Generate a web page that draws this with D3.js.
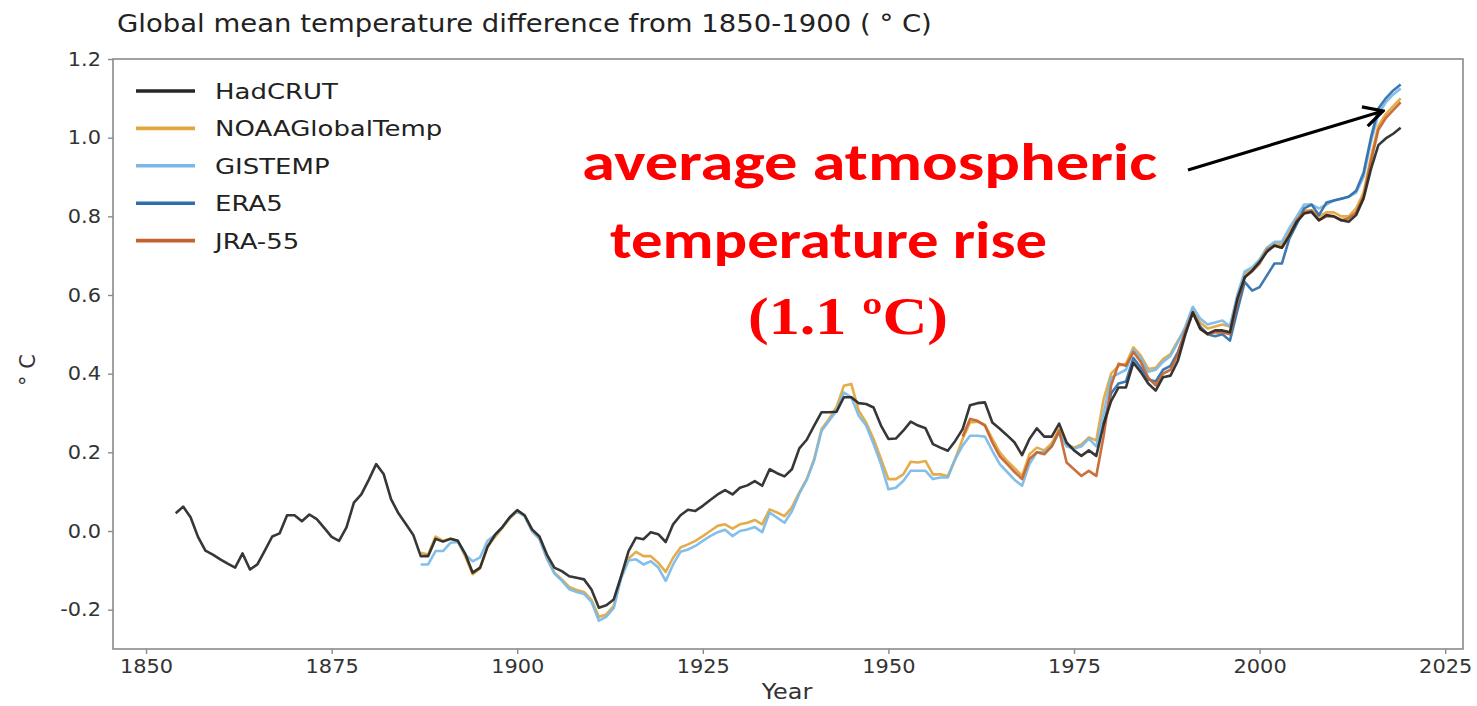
<!DOCTYPE html>
<html>
<head>
<meta charset="utf-8">
<script src="https://cdn.jsdelivr.net/npm/d3@7"></script>
<style>
  body { margin: 0; background: #fff; }
  svg { display: block; }
</style>
</head>
<body>
<svg id="chart" width="1477" height="706"></svg>
<script>
// ---- data (annual values, deg C relative to 1850-1900) ----
const hadcrutStart = 1854
const hadcrut = [
  0.045, 0.062, 0.035, -0.015, -0.05, -0.06, -0.072, -0.083, -0.093, -0.057,
  -0.098, -0.085, -0.05, -0.014, -0.006, 0.04, 0.04, 0.025, 0.042, 0.03,
  0.008, -0.015, -0.025, 0.009, 0.072, 0.093, 0.13, 0.17, 0.145, 0.081,
  0.045, 0.018, -0.01, -0.064, -0.064, -0.02, -0.027, -0.02, -0.025, -0.058,
  -0.106, -0.093, -0.04, -0.01, 0.01, 0.035, 0.053, 0.04, 0.004, -0.014,
  -0.06, -0.093, -0.102, -0.115, -0.119, -0.123, -0.149, -0.195, -0.189, -0.174,
  -0.115, -0.051, -0.017, -0.021, -0.003, -0.008, -0.028, 0.017, 0.04, 0.054,
  0.051, 0.064, 0.079, 0.093, 0.104, 0.093, 0.11, 0.116, 0.127, 0.115,
  0.157, 0.147, 0.139, 0.157, 0.21, 0.232, 0.268, 0.302, 0.302, 0.303,
  0.34, 0.34, 0.325, 0.323, 0.314, 0.268, 0.234, 0.235, 0.255, 0.278,
  0.268, 0.261, 0.221, 0.212, 0.204, 0.229, 0.259, 0.32, 0.325, 0.327,
  0.276, 0.26, 0.243, 0.225, 0.193, 0.234, 0.261, 0.24, 0.24, 0.273,
  0.225, 0.205, 0.191, 0.205, 0.191, 0.272, 0.33, 0.365, 0.365, 0.428,
  0.404, 0.375, 0.357, 0.391, 0.395, 0.433, 0.5, 0.556, 0.514, 0.501,
  0.51, 0.51, 0.505, 0.59, 0.645, 0.662, 0.684, 0.71, 0.726, 0.72,
  0.751, 0.786, 0.807, 0.811, 0.79, 0.803, 0.8, 0.79, 0.786, 0.803,
  0.845, 0.92, 0.981, 0.998, 1.01, 1.025
]

const noaaStart = 1887
const noaa = [
  -0.055, -0.06, -0.014, -0.025, -0.02, -0.025, -0.065, -0.11, -0.095, -0.04,
  -0.015, 0.008, 0.032, 0.05, 0.038, 0.0, -0.02, -0.07, -0.106, -0.123,
  -0.142, -0.15, -0.155, -0.175, -0.218, -0.212, -0.19, -0.115, -0.07, -0.053,
  -0.064, -0.064, -0.081, -0.104, -0.068, -0.042, -0.034, -0.025, -0.013, 0.0,
  0.013, 0.017, 0.006, 0.017, 0.021, 0.028, 0.017, 0.055, 0.047, 0.038,
  0.06, 0.098, 0.132, 0.183, 0.259, 0.285, 0.315, 0.369, 0.374, 0.306,
  0.276, 0.234, 0.183, 0.132, 0.132, 0.144, 0.176, 0.174, 0.178, 0.144,
  0.144, 0.14, 0.183, 0.234, 0.276, 0.278, 0.27, 0.234, 0.2, 0.178,
  0.16, 0.14, 0.195, 0.212, 0.205, 0.223, 0.259, 0.221, 0.212, 0.22,
  0.238, 0.23, 0.336, 0.4, 0.42, 0.425, 0.467, 0.446, 0.412, 0.415,
  0.437, 0.45, 0.484, 0.514, 0.565, 0.53, 0.515, 0.52, 0.525, 0.52,
  0.595, 0.655, 0.665, 0.69, 0.72, 0.73, 0.728, 0.76, 0.795, 0.815,
  0.815, 0.8, 0.81, 0.81, 0.8, 0.8, 0.82, 0.86, 0.95, 1.03,
  1.06, 1.08, 1.1
]

const gistempStart = 1887
const gistemp = [
  -0.085, -0.085, -0.051, -0.051, -0.03, -0.028, -0.06, -0.077, -0.067, -0.025,
  -0.01, 0.01, 0.035, 0.05, 0.038, 0.0, -0.02, -0.07, -0.108, -0.126,
  -0.148, -0.155, -0.16, -0.18, -0.228, -0.218, -0.196, -0.12, -0.075, -0.072,
  -0.085, -0.077, -0.093, -0.127, -0.085, -0.053, -0.047, -0.038, -0.025, -0.013,
  -0.003, 0.003, -0.013, 0.0, 0.004, 0.01, -0.003, 0.047, 0.034, 0.021,
  0.05, 0.095, 0.13, 0.18, 0.255, 0.28, 0.305, 0.352, 0.34, 0.293,
  0.268, 0.221, 0.17, 0.106, 0.11, 0.127, 0.153, 0.153, 0.153, 0.132,
  0.136, 0.136, 0.183, 0.217, 0.242, 0.242, 0.24, 0.204, 0.17, 0.15,
  0.13, 0.115, 0.17, 0.2, 0.2, 0.215, 0.25, 0.215, 0.21, 0.215,
  0.235, 0.215, 0.3, 0.39, 0.4, 0.41, 0.46, 0.44, 0.405, 0.41,
  0.43, 0.445, 0.48, 0.52, 0.57, 0.54, 0.525, 0.53, 0.535, 0.52,
  0.6, 0.66, 0.67, 0.69, 0.72, 0.735, 0.735, 0.77, 0.8, 0.83,
  0.83, 0.82, 0.83, 0.84, 0.845, 0.85, 0.86, 0.9, 0.99, 1.06,
  1.09, 1.11, 1.125
]

const era5Start = 1979
const era5 = [
  0.27, 0.35, 0.375, 0.38, 0.44, 0.415, 0.385, 0.38, 0.41, 0.42,
  0.455, 0.505, 0.555, 0.52, 0.5, 0.495, 0.5, 0.484, 0.56, 0.633,
  0.611, 0.62, 0.65, 0.68, 0.68, 0.743, 0.78, 0.82, 0.83, 0.803,
  0.835, 0.84, 0.845, 0.85, 0.865, 0.91, 1.0, 1.074, 1.1, 1.12,
  1.135
]

const jra55Start = 1960
const jra55 = [
  0.24, 0.285, 0.28, 0.268, 0.225, 0.19, 0.17, 0.15, 0.132, 0.183,
  0.2, 0.195, 0.215, 0.255, 0.174, 0.157, 0.14, 0.153, 0.14, 0.242,
  0.37, 0.425, 0.42, 0.455, 0.43, 0.39, 0.37, 0.4, 0.41, 0.45,
  0.51, 0.555, 0.515, 0.5, 0.505, 0.505, 0.5, 0.58, 0.645, 0.66,
  0.68, 0.715, 0.725, 0.72, 0.75, 0.79, 0.81, 0.815, 0.79, 0.8,
  0.8, 0.79, 0.795, 0.81, 0.85, 0.94, 1.02, 1.05, 1.07, 1.09
]

const seriesNames = ['HadCRUT', 'NOAAGlobalTemp', 'GISTEMP', 'ERA5', 'JRA-55']
const seriesColors = ['#262626', '#e2a63c', '#79b8e8', '#2f6eab', '#c4642c']
const seriesData = [
  [hadcrutStart, hadcrut], [noaaStart, noaa], [gistempStart, gistemp],
  [era5Start, era5], [jra55Start, jra55]
]

const xTicks = [1850, 1875, 1900, 1925, 1950, 1975, 2000, 2025]
const yTicks = [-0.2, 0.0, 0.2, 0.4, 0.6, 0.8, 1.0, 1.2]

// ---- setup ----
const svg = d3.select('#chart')
const plotLeft = 113, plotRight = 1463, plotTop = 59, plotBottom = 649

const x = d3.scaleLinear().domain([1845.55, 2027.4]).range([plotLeft, plotRight])
const y = d3.scaleLinear().domain([-0.3, 1.2]).range([plotBottom, plotTop])

const tickFont = 'DejaVu Sans, sans-serif'

// the picture is a bit wider than the glyphs, so stretch text sideways
function widen(sel, factor) {
  sel.each(function () {
    let w = this.getComputedTextLength()
    d3.select(this).attr('textLength', w * factor).attr('lengthAdjust', 'spacingAndGlyphs')
  })
}

// frame
svg.append('rect')
  .attr('x', plotLeft).attr('y', plotTop)
  .attr('width', plotRight - plotLeft).attr('height', plotBottom - plotTop)
  .attr('fill', 'none').attr('stroke', '#8a8a8a').attr('stroke-width', 1.6)

// axes
let gx = svg.append('g')
  .attr('transform', `translate(0,${plotBottom})`)
  .call(d3.axisBottom(x).tickValues(xTicks).tickSize(5).tickPadding(6).tickFormat(d3.format('d')))
let gy = svg.append('g')
  .attr('transform', `translate(${plotLeft},0)`)
  .call(d3.axisLeft(y).tickValues(yTicks).tickSize(5).tickPadding(7).tickFormat(d3.format('.1f')))

for (let g of [gx, gy]) {
  g.select('.domain').remove()
  g.selectAll('line').attr('stroke', '#8a8a8a').attr('stroke-width', 1.4)
  g.selectAll('text')
    .attr('font-family', tickFont)
    .attr('font-size', 19)
    .attr('fill', '#333')
}
gy.selectAll('text').text(d => d3.format('.1f')(d).replace('−', '-'))
widen(gx.selectAll('text'), 1.1)
widen(gy.selectAll('text'), 1.1)

// lines
const line = d3.line()
  .x(d => x(d[0]))
  .y(d => y(d[1]))

let order = [1, 2, 3, 4, 0]   // black drawn last
for (let k of order) {
  let [start, vals] = seriesData[k]
  let pts = vals.map((v, i) => [start + i, v])
  svg.append('path')
    .datum(pts)
    .attr('d', line)
    .attr('fill', 'none')
    .attr('stroke', seriesColors[k])
    .attr('stroke-width', 2.6)
    .attr('stroke-linejoin', 'round')
    .attr('opacity', 0.92)
}

// legend
for (let i = 0; i < seriesNames.length; i++) {
  let ly = 91 + i * 37.4
  svg.append('line')
    .attr('x1', 136).attr('x2', 195)
    .attr('y1', ly).attr('y2', ly)
    .attr('stroke', seriesColors[i]).attr('stroke-width', 3.6)
  let t = svg.append('text')
    .attr('x', 215).attr('y', ly + 8)
    .attr('font-family', tickFont).attr('font-size', 22)
    .attr('fill', '#222')
    .text(seriesNames[i])
  widen(t, 1.18)
}

// title and axis labels
let title = svg.append('text')
  .attr('x', 117).attr('y', 32)
  .attr('font-family', tickFont).attr('font-size', 25)
  .attr('fill', '#222')
  .text('Global mean temperature difference from 1850-1900 ( ° C)')
widen(title, 1.1)

svg.append('text')
  .attr('transform', 'translate(35,370) rotate(-90)')
  .attr('text-anchor', 'middle')
  .attr('font-family', tickFont).attr('font-size', 21)
  .attr('fill', '#333')
  .text('° C')

let xl = svg.append('text')
  .attr('x', 787).attr('y', 699)
  .attr('text-anchor', 'middle')
  .attr('font-family', tickFont).attr('font-size', 21)
  .attr('fill', '#333')
  .text('Year')
widen(xl, 1.14)

// annotation
const redFont = 'Carlito, Lato, sans-serif'
svg.append('text')
  .attr('x', 582).attr('y', 180)
  .attr('font-family', redFont).attr('font-weight', 'bold').attr('font-size', 52)
  .attr('fill', '#ff0000')
  .attr('textLength', 575).attr('lengthAdjust', 'spacingAndGlyphs')
  .text('average atmospheric')
svg.append('text')
  .attr('x', 610).attr('y', 258)
  .attr('font-family', redFont).attr('font-weight', 'bold').attr('font-size', 52)
  .attr('fill', '#ff0000')
  .attr('textLength', 437).attr('lengthAdjust', 'spacingAndGlyphs')
  .text('temperature rise')
svg.append('text')
  .attr('x', 748).attr('y', 334)
  .attr('font-family', 'Liberation Serif, serif').attr('font-weight', 'bold').attr('font-size', 52)
  .attr('fill', '#ff0000')
  .attr('textLength', 200).attr('lengthAdjust', 'spacingAndGlyphs')
  .text('(1.1 ºC)')

// arrow
svg.append('defs').append('marker')
  .attr('id', 'head')
  .attr('viewBox', '0 0 24 24')
  .attr('refX', 22).attr('refY', 12)
  .attr('markerWidth', 24).attr('markerHeight', 24)
  .attr('markerUnits', 'userSpaceOnUse')
  .attr('orient', 'auto')
  .append('path')
  .attr('d', 'M3,2 L22,12 L3,22')
  .attr('fill', 'none').attr('stroke', '#000').attr('stroke-width', 3.2)

svg.append('line')
  .attr('x1', 1188).attr('y1', 170)
  .attr('x2', 1383).attr('y2', 111)
  .attr('stroke', '#000').attr('stroke-width', 3)
  .attr('marker-end', 'url(#head)')
</script>
</body>
</html>
